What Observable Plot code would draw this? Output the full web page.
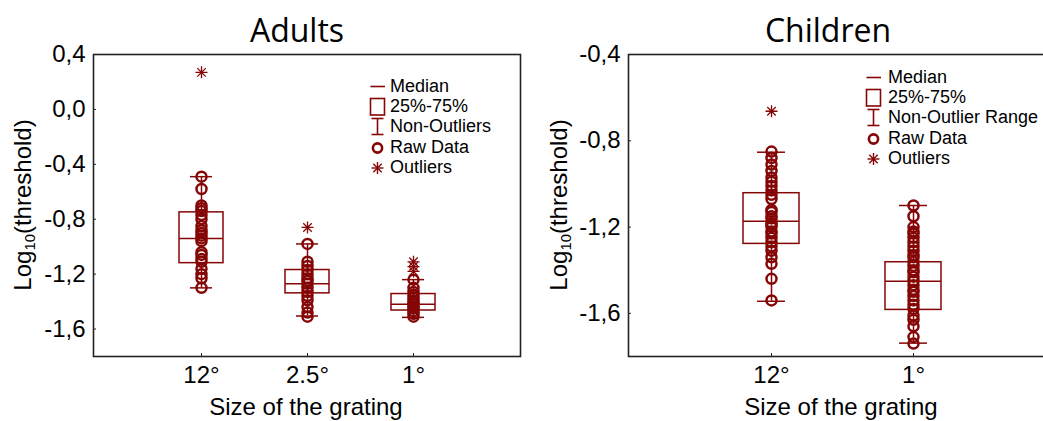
<!DOCTYPE html>
<html>
<head>
<meta charset="utf-8">
<script src="https://cdn.jsdelivr.net/npm/d3@7"></script>
<script src="https://cdn.jsdelivr.net/npm/@observablehq/plot@0.6"></script>
<style>
  html, body { margin: 0; padding: 0; background: #fff; }
  #wrap { position: relative; width: 1043px; height: 421px; overflow: hidden; background: #fff; }
  .panel { position: absolute; top: 0; }
  .title { position: absolute; font-family: "Open Sans", sans-serif; font-size: 32px; line-height: 32px; text-align: center; width: 300px; color: #000; }
  .xlab { position: absolute; font-family: "Liberation Sans", Arial, sans-serif; font-size: 24px; line-height: 24px; text-align: center; width: 400px; color: #000; }
  .ylab { position: absolute; font-family: "Liberation Sans", Arial, sans-serif; font-size: 24px; line-height: 30px; text-align: center; width: 300px; height: 30px; transform: rotate(-90deg); color: #000; white-space: nowrap; }
  .ylab sub { font-size: 0.62em; vertical-align: -0.25em; line-height: 0; }
  .legend { position: absolute; font-family: "Liberation Sans", Arial, sans-serif; font-size: 18px; color: #000; }
  .legend .row { display: flex; align-items: center; height: 20.3px; white-space: nowrap; }
  .legend svg { flex: none; }
</style>
</head>
<body>
<div id="wrap"></div>
<script>
// ---------------- data ----------------
const adultsCategories = ["12°", "2.5°", "1°"];
const adultsQ1 = [-1.12, -1.34, -1.465];
const adultsMedian = [-0.94, -1.27, -1.42];
const adultsQ3 = [-0.75, -1.17, -1.345];
const adultsWhiskerLow = [-1.30, -1.505, -1.515];
const adultsWhiskerHigh = [-0.49, -0.98, -1.24];
const adultsRaw12 = [-0.49, -0.58, -0.70, -0.72, -0.74, -0.77, -0.80, -0.85, -0.88, -0.90, -0.92, -0.94, -0.96, -1.04, -1.06, -1.09, -1.11, -1.16, -1.20, -1.23, -1.30];
const adultsRaw25 = [-0.98, -1.11, -1.14, -1.17, -1.20, -1.23, -1.25, -1.27, -1.30, -1.33, -1.36, -1.39, -1.44, -1.48, -1.51];
const adultsRaw1 = [-1.24, -1.30, -1.33, -1.35, -1.37, -1.39, -1.41, -1.42, -1.44, -1.45, -1.47, -1.49, -1.51];
const adultsOutliers12 = [0.27];
const adultsOutliers25 = [-0.86];
const adultsOutliers1 = [-1.11, -1.145, -1.18];
const adultsYTicks = [0.4, 0.0, -0.4, -0.8, -1.2, -1.6];
const adultsYDomain = [-1.8, 0.4];

const childrenCategories = ["12°", "1°"];
const childrenQ1 = [-1.278, -1.584];
const childrenMedian = [-1.173, -1.451];
const childrenQ3 = [-1.043, -1.363];
const childrenWhiskerLow = [-1.544, -1.738];
const childrenWhiskerHigh = [-0.853, -1.10];
const childrenRaw12 = [-0.85, -0.88, -0.91, -0.94, -0.97, -0.99, -1.01, -1.03, -1.05, -1.07, -1.12, -1.13, -1.15, -1.16, -1.18, -1.19, -1.20, -1.22, -1.23, -1.25, -1.27, -1.29, -1.31, -1.34, -1.37, -1.44, -1.54];
const childrenRaw1 = [-1.10, -1.15, -1.20, -1.22, -1.23, -1.25, -1.27, -1.29, -1.31, -1.33, -1.34, -1.36, -1.38, -1.40, -1.41, -1.43, -1.45, -1.47, -1.49, -1.50, -1.52, -1.54, -1.56, -1.58, -1.61, -1.63, -1.66, -1.71, -1.74];
const childrenOutliers12 = [-0.663];
const childrenOutliers1 = [];
const childrenYTicks = [-0.4, -0.8, -1.2, -1.6];
const childrenYDomain = [-1.8, -0.4];

const adultsLegend = ["Median", "25%-75%", "Non-Outliers", "Raw Data", "Outliers"];
const childrenLegend = ["Median", "25%-75%", "Non-Outlier Range", "Raw Data", "Outliers"];

// ---------------- style ----------------
const RED = "#850606";
const FONT = "'Liberation Sans', Arial, sans-serif";

const asterisk8 = {
  draw(ctx, size) {
    const r = Math.sqrt(size / Math.PI);
    const d = r * Math.SQRT1_2;
    ctx.moveTo(0, -r); ctx.lineTo(0, r);
    ctx.moveTo(-r, 0); ctx.lineTo(r, 0);
    ctx.moveTo(-d, -d); ctx.lineTo(d, d);
    ctx.moveTo(-d, d); ctx.lineTo(d, -d);
  }
};

const fmt = v => v.toFixed(1).replace(".", ",");

function buildPanel(cfg) {
  const stats = cfg.categories.map((c, i) => ({
    cat: c, q1: cfg.q1[i], median: cfg.median[i], q3: cfg.q3[i], wlo: cfg.wlo[i], whi: cfg.whi[i]
  }));
  const raw = cfg.categories.flatMap((c, i) => cfg.raw[i].map(v => ({cat: c, v})));
  const outl = cfg.categories.flatMap((c, i) => cfg.outliers[i].map(v => ({cat: c, v})));
  const line = {stroke: RED, strokeWidth: 1.5};
  return Plot.plot({
    width: 530, height: 421,
    marginLeft: 93, marginRight: 10, marginTop: 54, marginBottom: 65,
    style: {fontFamily: FONT, fontSize: "24px", color: "#000", background: "transparent", overflow: "visible"},
    x: {type: "band", domain: cfg.categories, paddingInner: cfg.pi, paddingOuter: cfg.po, label: null},
    y: {domain: cfg.yDomain, label: null},
    marks: [
      Plot.ruleX(stats, {x: "cat", y1: "wlo", y2: "q1", ...line}),
      Plot.ruleX(stats, {x: "cat", y1: "q3", y2: "whi", ...line}),
      Plot.tickY(stats, {x: "cat", y: "wlo", insetLeft: cfg.cap, insetRight: cfg.cap, ...line}),
      Plot.tickY(stats, {x: "cat", y: "whi", insetLeft: cfg.cap, insetRight: cfg.cap, ...line}),
      Plot.barY(stats, {x: "cat", y1: "q1", y2: "q3", fill: "none", ...line}),
      Plot.tickY(stats, {x: "cat", y: "median", ...line}),
      Plot.dot(raw, {x: "cat", y: "v", r: 5, stroke: RED, strokeWidth: 2.5, fill: "none"}),
      Plot.dot(outl, {x: "cat", y: "v", r: 6, symbol: asterisk8, stroke: RED, strokeWidth: 1.3, fill: "none"}),
      Plot.axisY({ticks: cfg.yTicks, tickFormat: fmt, tickSize: -3, tickPadding: 11, label: null, stroke: "#222"}),
      Plot.axisX({tickSize: -3, tickPadding: 12, label: null, stroke: "#222"}),
      Plot.frame({stroke: "#222", strokeWidth: 1.6})
    ]
  });
}

function symbolSvg(kind) {
  const s = `stroke="${RED}" fill="none"`;
  let inner = "";
  if (kind === 0) inner = `<line x1="1.5" y1="9.5" x2="16" y2="9.5" ${s} stroke-width="1.6"/>`;
  if (kind === 1) inner = `<rect x="1.5" y="1.5" width="14" height="16.5" ${s} stroke-width="1.6"/>`;
  if (kind === 2) inner = `<line x1="2.5" y1="1.5" x2="14.5" y2="1.5" ${s} stroke-width="1.6"/><line x1="8.5" y1="1.5" x2="8.5" y2="17.5" ${s} stroke-width="1.6"/><line x1="2.5" y1="17.5" x2="14.5" y2="17.5" ${s} stroke-width="1.6"/>`;
  if (kind === 3) inner = `<circle cx="8.5" cy="10" r="4.6" ${s} stroke-width="2.6"/>`;
  if (kind === 4) inner = `<g ${s} stroke-width="1.4"><line x1="8.5" y1="4" x2="8.5" y2="16"/><line x1="2.5" y1="10" x2="14.5" y2="10"/><line x1="4.3" y1="5.8" x2="12.7" y2="14.2"/><line x1="4.3" y1="14.2" x2="12.7" y2="5.8"/></g>`;
  return `<svg width="17" height="19" viewBox="0 0 17 19">${inner}</svg>`;
}

function addLegend(wrap, items, left, top, gap) {
  const div = document.createElement("div");
  div.className = "legend";
  div.style.left = left + "px";
  div.style.top = top + "px";
  div.innerHTML = items.map((t, i) => `<div class="row">${symbolSvg(i)}<span style="margin-left:${gap}px">${t}</span></div>`).join("");
  wrap.appendChild(div);
}

function addText(wrap, cls, html, left, top) {
  const div = document.createElement("div");
  div.className = cls;
  div.innerHTML = html;
  div.style.left = left + "px";
  div.style.top = top + "px";
  wrap.appendChild(div);
}

const wrap = document.getElementById("wrap");

const left = buildPanel({
  categories: adultsCategories, q1: adultsQ1, median: adultsMedian, q3: adultsQ3,
  wlo: adultsWhiskerLow, whi: adultsWhiskerHigh,
  raw: [adultsRaw12, adultsRaw25, adultsRaw1],
  outliers: [adultsOutliers12, adultsOutliers25, adultsOutliers1],
  yDomain: adultsYDomain, yTicks: adultsYTicks, pi: 0.588, po: 0.794, cap: 11
});
left.classList.add("panel");
left.style.left = "0px";
wrap.appendChild(left);

const right = buildPanel({
  categories: childrenCategories, q1: childrenQ1, median: childrenMedian, q3: childrenQ3,
  wlo: childrenWhiskerLow, whi: childrenWhiskerHigh,
  raw: [childrenRaw12, childrenRaw1],
  outliers: [childrenOutliers12, childrenOutliers1],
  yDomain: childrenYDomain, yTicks: childrenYTicks, pi: 0.6065, po: 0.803, cap: 14
});
right.classList.add("panel");
right.style.left = "535px";
wrap.appendChild(right);

addText(wrap, "title", "Adults", 297 - 150, 14);
addText(wrap, "title", "Children", 828 - 150, 14);
addText(wrap, "xlab", "Size of the grating", 306 - 200, 395);
addText(wrap, "xlab", "Size of the grating", 841 - 200, 395);
addText(wrap, "ylab", "Log<sub>10</sub>(threshold)", 23 - 150, 205 - 15);
addText(wrap, "ylab", "Log<sub>10</sub>(threshold)", 559 - 150, 205 - 15);

addLegend(wrap, adultsLegend, 369, 76, 4);
addLegend(wrap, childrenLegend, 865, 67, 6);
</script>
</body>
</html>
